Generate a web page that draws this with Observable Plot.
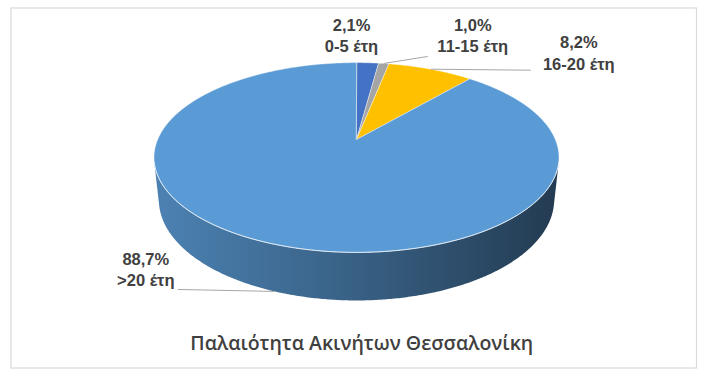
<!DOCTYPE html>
<html>
<head>
<meta charset="utf-8">
<script src="https://cdn.jsdelivr.net/npm/d3@7"></script>
<script src="https://cdn.jsdelivr.net/npm/@observablehq/plot@0.6"></script>
<style>
  html, body { margin: 0; padding: 0; background: #ffffff; }
  #chart { width: 707px; height: 375px; }
</style>
</head>
<body>
<div id="chart"></div>
<script>
// ---------- data ----------
const categories = ["0-5 έτη", "11-15 έτη", "16-20 έτη", ">20 έτη"];
const shares = [2.1, 1.0, 8.2, 88.7];
const chartTitle = "Παλαιότητα Ακινήτων Θεσσαλονίκη";

// ---------- styling / layout ----------
const palette = {"0-5 έτη": "#4472C4", "11-15 έτη": "#A5A5A5", "16-20 έτη": "#FFC000", ">20 έτη": "#5B9BD5"};
const labelLayout = {
  "0-5 έτη":   {dx: -16, dy: -28, leader: null},
  "11-15 έτη": {dx: 89,  dy: -29, leader: [-45, 22]},
  "16-20 έτη": {dx: 148, dy: -17, leader: [-48, 18]},
  ">20 έτη":   {dx: -129, dy: -23, leader: [32, 21]}
};

// 3D camera (perspective) parameters
const phi = 27.4 * Math.PI / 180, cphi = Math.cos(phi), sphi = Math.sin(phi);
const D = 4.684, F = 931.3, H = 0.2423;
function project(theta, r, w) {
  const u = r * Math.sin(theta), v = r * Math.cos(theta);
  const dist = D + v * cphi - w * sphi;
  return [F * u / dist, F * (v * sphi + w * cphi) / dist];
}

const total = d3.sum(shares);
let acc = 0;
const slices = categories.map((cat, i) => {
  const a0 = acc / total * 2 * Math.PI;
  acc += shares[i];
  const a1 = acc / total * 2 * Math.PI;
  return {cat, idx: i, value: shares[i], a0, a1, mid: (a0 + a1) / 2};
});

// visible side range
const thetaVis = Math.acos(-1 / (D * cphi));
const visLo = thetaVis, visHi = 2 * Math.PI - thetaVis;

// side faces (one polygon per visible slice, gradient filled)
const sidePts = [];
const gradients = [];
for (const s of slices) {
  const lo = Math.max(s.a0, visLo), hi = Math.min(s.a1, visHi);
  if (hi <= lo) continue;
  const gid = "sideGrad" + s.idx;
  gradients.push({id: gid, base: palette[s.cat]});
  const n = Math.max(2, Math.ceil((hi - lo) / (Math.PI / 360)));
  const top = [], bot = [];
  for (let k = 0; k <= n; k++) {
    const t = lo + (hi - lo) * k / n;
    top.push(project(t, 1, 0));
    bot.push(project(t, 1, -H));
  }
  for (const p of top.concat(bot.reverse())) sidePts.push({id: s.cat, x: p[0], y: p[1], fill: `url(#${gid})`});
}

// top faces
const topPts = [];
for (const s of slices) {
  topPts.push({id: s.cat, x: 0, y: 0, color: palette[s.cat]});
  const n = Math.max(2, Math.ceil((s.a1 - s.a0) / (Math.PI / 360)));
  for (let k = 0; k <= n; k++) {
    const t = s.a0 + (s.a1 - s.a0) * k / n;
    const p = project(t, 1, 0);
    topPts.push({id: s.cat, x: p[0], y: p[1], color: palette[s.cat]});
  }
}

// front rim highlight
const rimPts = [];
for (let k = 0; k <= 200; k++) {
  const t = visLo + (visHi - visLo) * k / 200;
  const p = project(t, 1, 0);
  rimPts.push({x: p[0], y: p[1]});
}

// labels & leaders
const fmt = v => d3.format(".1f")(v).replace(".", ",") + "%";
const labels = slices.map(s => {
  const front = Math.cos(s.mid) < -1 / (D * cphi);
  const a = project(s.mid, 1, front ? -H : 0);
  const L = labelLayout[s.cat];
  const lx = a[0] + L.dx, ly = a[1] - L.dy;
  return {
    text: fmt(s.value) + "\n" + s.cat,
    ax: a[0], ay: a[1], lx, ly,
    ex: L.leader ? lx + L.leader[0] : null,
    ey: L.leader ? ly - L.leader[1] : null,
    leader: !!L.leader
  };
});

const plot = Plot.plot({
  width: 707,
  height: 375,
  marginLeft: 10.5,
  marginRight: 11,
  marginTop: 7.5,
  marginBottom: 7.5,
  x: {type: "linear", domain: [-356, 351], range: [0, 707], axis: null},
  y: {type: "linear", domain: [139, -236], range: [0, 375], axis: null},
  color: {type: "identity"},
  style: {background: "#ffffff"},
  marks: [
    Plot.frame({stroke: "#d9d9d9", strokeWidth: 1.2}),
    Plot.line(sidePts, {x: "x", y: "y", z: "id", fill: "fill", stroke: "none", curve: "linear-closed"}),
    Plot.line(topPts, {x: "x", y: "y", z: "id", fill: "color", stroke: "#ffffff", strokeOpacity: 0.55, strokeWidth: 0.8, curve: "linear-closed"}),
    Plot.line(rimPts, {x: "x", y: "y", stroke: "#e8f1fa", strokeWidth: 0.9, strokeOpacity: 0.85}),
    Plot.link(labels.filter(d => d.leader), {x1: "ax", y1: "ay", x2: "ex", y2: "ey", stroke: "#a6a6a6", strokeWidth: 1}),
    Plot.text(labels, {x: "lx", y: "ly", text: "text", lineAnchor: "middle", lineHeight: 1.3, fontSize: 16.5, fontWeight: "bold", fill: "#404040", fontFamily: "Liberation Sans, Arial, sans-serif"}),
    Plot.text([chartTitle], {text: d => d, frameAnchor: "bottom", dx: 8, dy: -18, fontSize: 19.5, fontWeight: 600, fill: "#404040", fontFamily: "Open Sans, sans-serif"})
  ]
});

// gradient definitions for the 3D side walls
const defs = d3.select(plot).insert("defs", ":first-child");
for (const g of gradients) {
  const b = d3.rgb(g.base);
  const sc = k => d3.rgb(b.r * k, b.g * k, b.b * k).formatHex();
  const lg = defs.append("linearGradient").attr("id", g.id).attr("x1", "0").attr("x2", "1").attr("y1", "0").attr("y2", "0");
  [[0, 0.84], [0.5, 0.62], [1, 0.38]].forEach(([o, k]) => lg.append("stop").attr("offset", o).attr("stop-color", sc(k)));
}
document.getElementById("chart").appendChild(plot);
</script>
</body>
</html>
